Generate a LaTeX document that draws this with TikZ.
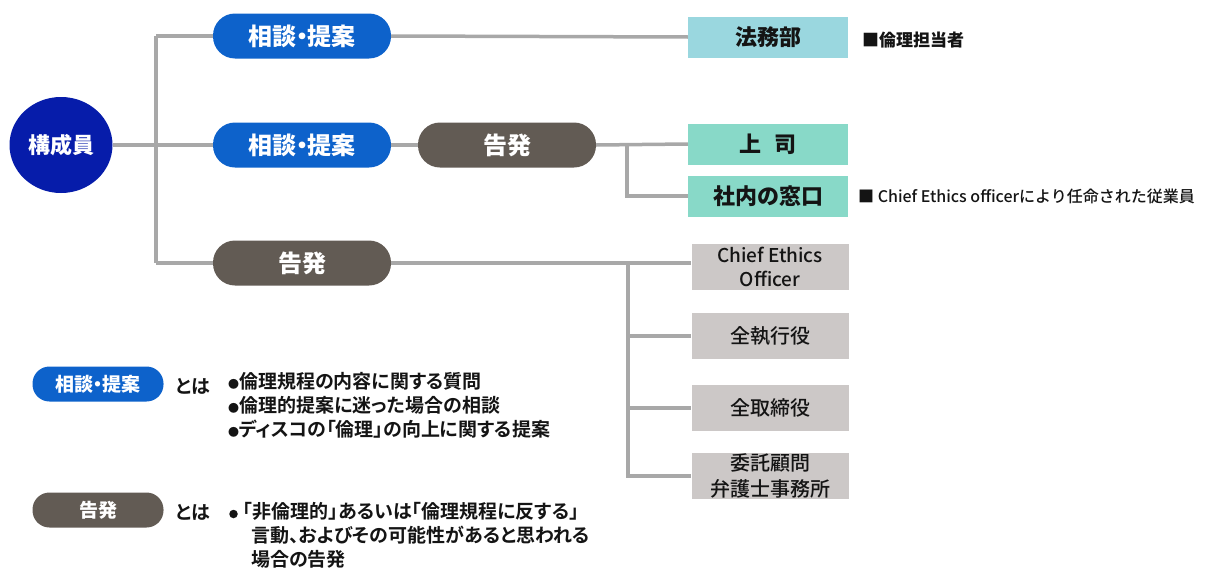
\documentclass[tikz,border=0pt]{standalone}
\usepackage{fontspec}
\setmainfont{Noto Sans CJK JP}
\newfontfamily\medfont{Noto Sans CJK JP Medium}
\newfontfamily\boldpalt{Noto Sans CJK JP Bold}[RawFeature=+palt]
\usetikzlibrary{shapes.geometric}
\definecolor{lineg}{RGB}{168,168,168}
\definecolor{pblue}{RGB}{13,98,203}
\definecolor{pbrown}{RGB}{98,91,84}
\definecolor{navyc}{RGB}{6,28,170}
\definecolor{cyanc}{RGB}{154,215,223}
\definecolor{tealc}{RGB}{136,217,200}
\definecolor{grayc}{RGB}{204,200,199}
\definecolor{textc}{RGB}{20,20,20}
\newcommand{\setfs}[1]{\fontsize{#1}{#1}\selectfont}
\newcommand{\nakaten}{\hspace{-0.28em}・\hspace{-0.28em}}
\newcommand{\bul}{{\fontsize{11}{11}\selectfont ●}}
\begin{document}
\begin{tikzpicture}[x=1pt,y=-1pt,
  conn/.style={draw=lineg, line width=3.5pt},
  pill/.style={rounded corners=22pt, minimum width=178pt, minimum height=45pt, inner sep=0pt, text=white, font=\setfs{24}\bfseries},
  bluepill/.style={pill, fill=pblue},
  brownpill/.style={pill, fill=pbrown},
  smallpill/.style={rounded corners=17pt, minimum width=131pt, minimum height=35pt, inner sep=0pt, text=white, font=\setfs{19}\bfseries},
  member/.style={ellipse, fill=navyc, minimum width=103pt, minimum height=96pt, inner sep=0pt, text=white, font=\setfs{22}\bfseries},
  box/.style={minimum width=160pt, minimum height=41pt, inner sep=0pt, text=textc, font=\setfs{22}\bfseries},
  cyanbox/.style={box, fill=cyanc},
  tealbox/.style={box, fill=tealc},
  graybox/.style={minimum width=157pt, minimum height=46pt, inner sep=0pt, fill=grayc, text=textc, align=center, font=\medfont\fontsize{20}{26}\selectfont},
  anno/.style={anchor=west, inner sep=0pt, text=textc, font=\medfont\setfs{16}},
  legtext/.style={inner sep=0pt, text=textc, font=\boldpalt\fontsize{19}{24}\selectfont},
  bulletdot/.style={circle, fill=textc, minimum size=8.5pt, inner sep=0pt},
]
\useasboundingbox (0,0) rectangle (1214,570);

% nodes
\node[member] (m) at (61,145) {構成員};
\node[bluepill] (p1) at (302,36) {相談\nakaten 提案};
\node[bluepill] (p2) at (302,145) {相談\nakaten 提案};
\node[brownpill] (k2) at (507,145) {告発};
\node[brownpill] (k3) at (302,263) {告発};

\node[cyanbox] (hm) at (768,37) {法務部};
\node[tealbox] (js) at (768,144) {上\hspace{0.6em}司};
\node[tealbox] (sm) at (768,196) {社内の窓口};

\node[graybox, font=\medfont\fontsize{19}{24}\selectfont] (ceo) at (770,267) {Chief Ethics\\Officer};
\node[graybox] (ex) at (770,336) {全執行役};
\node[graybox] (dir) at (770,408) {全取締役};
\node[graybox] (law) at (770,476) {委託顧問\\弁護士事務所};

\node[anno, font=\bfseries\setfs{17}] (a1) at (862,40) {■倫理担当者};
\node[anno] (a2) at (858,196) {■ Chief Ethics officerにより任命された従業員};

% connectors
\coordinate (ta) at (156,36);
\coordinate (tb) at (156,263);
\coordinate (bm) at (627,145);
\coordinate (bl) at (628,263);
\draw[conn] (ta) -- (tb);
\draw[conn] (ta) -- (p1.west);
\draw[conn] (m.east) -- (p2.west);
\draw[conn] (tb) -- (k3.west);
\draw[conn] (p1.east) -- (hm.west);
\draw[conn] (p2.east) -- (k2.west);
\draw[conn] (k2.east) -- (js.west);
\draw[conn] (bm) |- (sm.west);
\draw[conn] (k3.east) -- (ceo.west |- k3.east);
\draw[conn] (bl) |- (ex.west);
\draw[conn] (bl) |- (dir.west);
\draw[conn] (bl) |- (law.west);

% legend
\node[smallpill, fill=pblue] (lp1) at (98,384) {相談\nakaten 提案};
\node[smallpill, fill=pbrown] (lp2) at (98,510) {告発};
\node[legtext] (to1) at (193,386) {とは};
\node[legtext] (to2) at (193,512) {とは};
\node[legtext, anchor=north west, align=left] (d1) at (228,372)
  {\bul 倫理規程の内容に関する質問\\
   \bul 倫理的提案に迷った場合の相談\\
   \bul ディスコの「倫理」の向上に関する提案};
\node[bulletdot] (b2) at (233.5,514) {};
\node[legtext, anchor=north west, align=left] (d2) at (243,502)
  {「非倫理的」あるいは「倫理規程に反する」\\
   \hspace{8pt}言動、およびその可能性があると思われる\\
   \hspace{8pt}場合の告発};
\end{tikzpicture}
\end{document}
